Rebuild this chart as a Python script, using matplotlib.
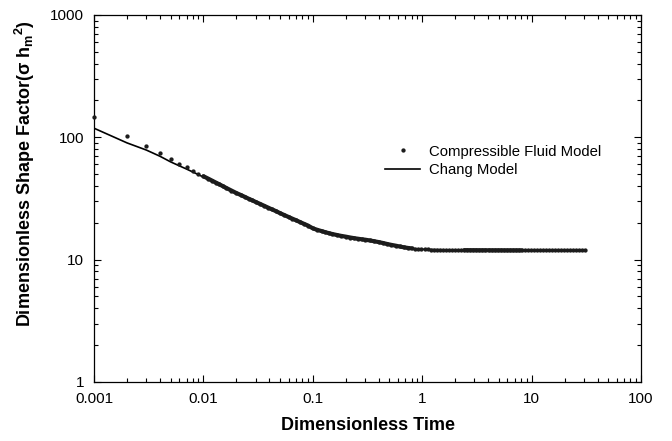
import matplotlib
matplotlib.use("Agg")
import matplotlib.pyplot as plt
from matplotlib.ticker import LogLocator, FixedLocator, FixedFormatter, NullFormatter

plt.rcParams['font.family'] = ['Liberation Sans', 'DejaVu Sans']
plt.rcParams['mathtext.default'] = 'regular'

# Compressible fluid model (dots)
fluid_t = [0.001, 0.002, 0.003, 0.004, 0.005, 0.006, 0.007, 0.008, 0.009,
           0.010, 0.011, 0.012, 0.013, 0.014, 0.015, 0.016, 0.018, 0.020,
           0.022, 0.024, 0.026, 0.028, 0.030, 0.033, 0.036, 0.039, 0.042, 0.046, 0.050,
           0.055, 0.060, 0.065, 0.070, 0.076, 0.083, 0.090, 0.100,
           0.11, 0.12, 0.13, 0.14, 0.15, 0.165, 0.18, 0.20, 0.22, 0.24, 0.26, 0.28, 0.30,
           0.33, 0.36, 0.40, 0.44, 0.48, 0.52, 0.57, 0.62, 0.68, 0.74, 0.80,
           0.86, 0.92, 0.98, 1.05, 1.12, 1.20, 1.28, 1.36, 1.45, 1.55, 1.65, 1.76, 1.88,
           2.0, 2.13, 2.27, 2.42, 2.58, 2.75, 2.93, 3.12, 3.33, 3.55, 3.78, 4.03, 4.3,
           4.58, 4.88, 5.2, 5.55, 5.9, 6.3, 6.7, 7.15, 7.6, 8.1, 8.6, 9.2, 9.8, 10.4,
           11.1, 11.8, 12.6, 13.4, 14.3, 15.2, 16.2, 17.3, 18.4, 19.6, 20.9, 22.3, 23.7,
           25.3, 27.0, 28.7, 30.6]
fluid_y = [146, 103, 85, 74, 66, 61, 57, 53, 50.3,
           48.0, 46.0, 44.2, 42.6, 41.2, 39.9, 38.7, 36.7, 35.0,
           33.7, 32.5, 31.4, 30.5, 29.6, 28.5, 27.5, 26.6, 25.8, 24.9, 24.0,
           23.1, 22.3, 21.6, 21.0, 20.3, 19.6, 19.0, 18.0,
           17.5, 17.1, 16.75, 16.45, 16.2, 15.9, 15.65, 15.4, 15.15, 14.95, 14.8, 14.65, 14.55,
           14.35, 14.15, 13.9, 13.65, 13.4, 13.2, 13.0, 12.8, 12.6, 12.45, 12.35,
           12.28, 12.22, 12.17, 12.13, 12.1, 12.07, 12.05, 12.03, 12.01, 12.0, 11.99, 11.98, 11.97,
           11.96, 11.95, 11.95, 11.94, 11.94, 11.93, 11.93, 11.93, 11.92, 11.92, 11.92, 11.92, 11.91,
           11.91, 11.91, 11.91, 11.9, 11.9, 11.9, 11.9, 11.9, 11.9, 11.9, 11.9, 11.9, 11.9, 11.9,
           11.9, 11.9, 11.9, 11.9, 11.9, 11.9, 11.9, 11.9, 11.9, 11.9, 11.9, 11.9, 11.9,
           11.9, 11.9, 11.9, 11.9]

# Chang model (line)
chang_t = [0.001, 0.002, 0.003, 0.004, 0.005, 0.006, 0.007, 0.008, 0.009, 0.010,
           0.012, 0.015, 0.020, 0.030, 0.050, 0.070, 0.10, 0.15, 0.20, 0.30, 0.50,
           0.80, 1.0, 2.0, 5.0, 10.0, 30.0]
chang_y = [118.6, 90, 78.7, 70, 63, 58.5, 55, 52, 49.5, 47.2,
           43.8, 39.9, 35.0, 29.6, 24.0, 21.0, 18.0, 16.2, 15.4, 14.55, 13.25,
           12.35, 12.15, 11.96, 11.92, 11.9, 11.9]

# time ranges where the fluid-model samples are so dense they read as a solid band
dense_ranges = [(0.010, 0.80), (2.42, 8.1)]

x_ticks = [0.001, 0.01, 0.1, 1, 10, 100]
x_labels = ['0.001', '0.01', '0.1', '1', '10', '100']
y_ticks = [1, 10, 100, 1000]
y_labels = ['1', '10', '100', '1000']

fig = plt.figure(figsize=(6.72, 4.41), dpi=100)
ax = fig.add_axes([0.140, 0.134, 0.814, 0.832])

ax.plot(chang_t, chang_y, color='black', lw=1.2, label='Chang Model', zorder=2)
for lo, hi in dense_ranges:
    i0, i1 = fluid_t.index(lo), fluid_t.index(hi) + 1
    ax.plot(fluid_t[i0:i1], fluid_y[i0:i1], color='#1c1c1c', lw=3.0,
            solid_capstyle='round', zorder=3)
ax.plot(fluid_t, fluid_y, 'o', color='#1c1c1c', ms=3.1, mec='none',
        label='Compressible Fluid Model', zorder=3, clip_on=False)

ax.set_xscale('log')
ax.set_yscale('log')
ax.set_xlim(0.001, 100)
ax.set_ylim(1, 1000)

ax.xaxis.set_major_locator(FixedLocator(x_ticks))
ax.xaxis.set_major_formatter(FixedFormatter(x_labels))
ax.yaxis.set_major_locator(FixedLocator(y_ticks))
ax.yaxis.set_major_formatter(FixedFormatter(y_labels))
ax.xaxis.set_minor_locator(LogLocator(base=10, subs=range(2, 10), numticks=20))
ax.yaxis.set_minor_locator(LogLocator(base=10, subs=range(2, 10), numticks=20))
ax.xaxis.set_minor_formatter(NullFormatter())
ax.yaxis.set_minor_formatter(NullFormatter())

ax.tick_params(which='both', direction='in', top=True, right=True, labelsize=11, width=0.8)
ax.tick_params(which='major', length=5, pad=7)
ax.tick_params(which='minor', length=3)
for sp in ax.spines.values():
    sp.set_linewidth(0.9)

ax.set_xlabel('Dimensionless Time', fontsize=13, fontweight='bold', labelpad=8)
ax.set_ylabel('Dimensionless Shape Factor(σ h$_m$$^2$)', fontsize=13, fontweight='bold')
ax.yaxis.set_label_coords(-0.104, 0.567)

handles, labels = ax.get_legend_handles_labels()
ax.legend(handles[::-1], labels[::-1], loc='upper left', bbox_to_anchor=(0.5075, 0.683),
          frameon=False, fontsize=10.7, handlelength=2.35, handletextpad=0.6,
          labelspacing=0.3, markerscale=1.0)

fig.savefig('out.png', dpi=100)
